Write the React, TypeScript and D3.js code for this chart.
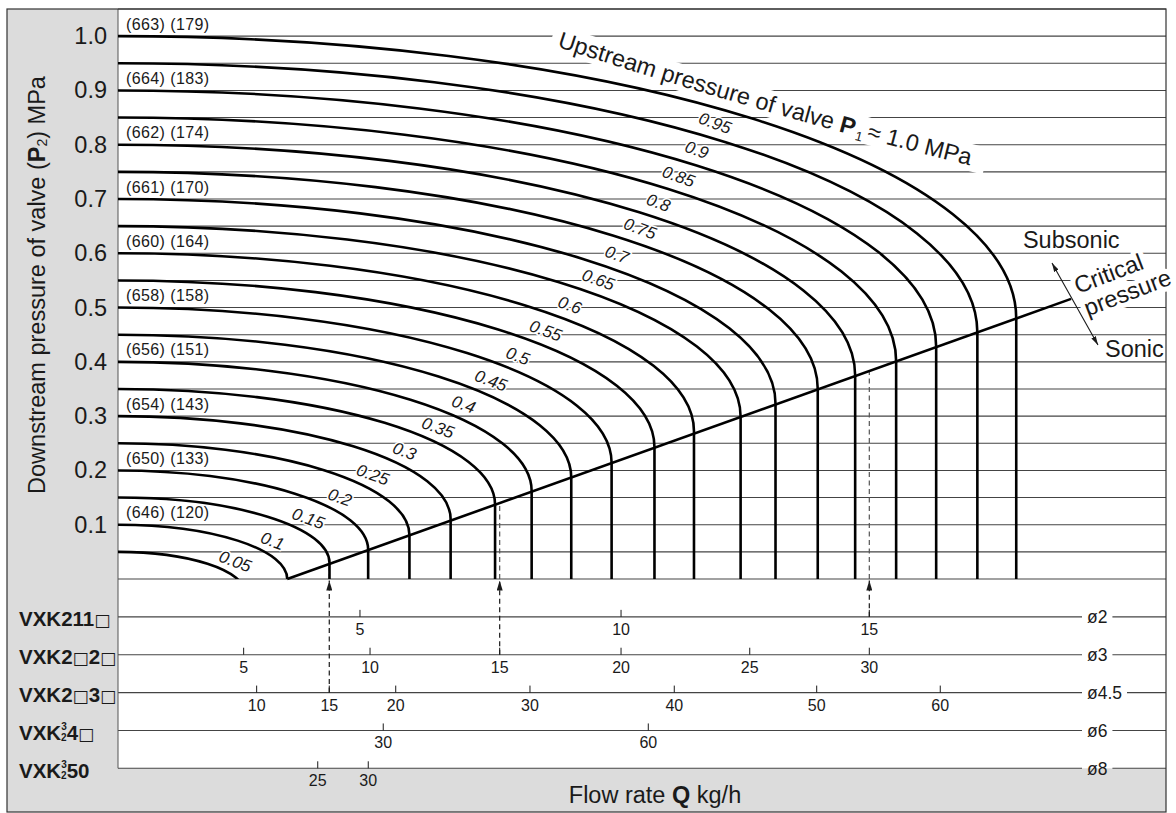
import React from "react";
import * as d3 from "d3";

// ---------- DATA ----------
// Upstream pressure P1 of each curve, MPa
const upstreamPressure = [0.05, 0.1, 0.15, 0.2, 0.25, 0.3, 0.35, 0.4, 0.45, 0.5, 0.55, 0.6, 0.65, 0.7, 0.75, 0.8, 0.85, 0.9, 0.95, 1.0];
// Flow at which each curve becomes sonic (position on the common flow axis, 0–100)
const sonicFlow = [12.08, 16.15, 20.18, 23.87, 27.81, 31.74, 35.98, 39.47, 43.25, 47.1, 51.19, 54.96, 59.41, 62.74, 66.77, 70.34, 74.25, 78.07, 82.0, 85.71];
// Downstream pressure P2 at the critical (sonic) point, MPa
const criticalDownstream = [-0.025, 0, 0.03, 0.054, 0.081, 0.11, 0.137, 0.162, 0.187, 0.214, 0.243, 0.272, 0.299, 0.323, 0.35, 0.375, 0.401, 0.428, 0.454, 0.48];
const curveLabels = ["0.05", "0.1", "0.15", "0.2", "0.25", "0.3", "0.35", "0.4", "0.45", "0.5", "0.55", "0.6", "0.65", "0.7", "0.75", "0.8", "0.85", "0.9", "0.95"];
// Critical pressure line (flow, P2)
const criticalLineFlow = [16.15, 90.94];
const criticalLinePressure = [0, 0.516];

const yTickValues = [0.1, 0.2, 0.3, 0.4, 0.5, 0.6, 0.7, 0.8, 0.9, 1.0];
const refLevels = [1.0, 0.9, 0.8, 0.7, 0.6, 0.5, 0.4, 0.3, 0.2, 0.1];
const refCodeA = [663, 664, 662, 661, 660, 658, 656, 654, 650, 646];
const refCodeB = [179, 183, 174, 170, 164, 158, 151, 143, 133, 120];

const modelBase = ["VXK211□", "VXK2□2□", "VXK2□3□", "VXK", "VXK"];
const modelStackTop = ["", "", "", "3", "3"];
const modelStackBottom = ["", "", "", "2", "2"];
const modelTail = ["", "", "", "4□", "50"];
const orificeLabels = ["ø2", "ø3", "ø4.5", "ø6", "ø8"];
// Flow-rate scale of each model row (kg/h) and where each tick sits on the common flow axis
const rowTickValues = [
  [5, 10, 15],
  [5, 10, 15, 20, 25, 30],
  [10, 15, 20, 30, 40, 50, 60],
  [30, 60],
  [25, 30],
];
const rowTickFlow = [
  [23.09, 48.0, 71.69],
  [11.99, 24.05, 36.42, 48.0, 60.28, 71.69],
  [13.23, 20.16, 26.5, 39.31, 53.08, 66.67, 78.46],
  [25.31, 50.6],
  [19.06, 23.88],
];
// Reading examples (dashed arrows): row index and flow value
const exampleRows = [2, 1, 0];
const exampleValues = [15, 15, 15];

const BOX_FONT = "'DejaVu Sans', sans-serif";

function withBoxes(s: string, keyBase: string) {
  const parts = s.split("□");
  const out: React.ReactNode[] = [];
  parts.forEach((p, i) => {
    if (p) out.push(<tspan key={`${keyBase}t${i}`}>{p}</tspan>);
    if (i < parts.length - 1)
      out.push(
        <tspan key={`${keyBase}b${i}`} fontFamily={BOX_FONT} fontWeight="normal" fontSize={17}>
          □
        </tspan>
      );
  });
  return out;
}

function approxWidth(s: string, fs: number) {
  let w = 0;
  for (const ch of s) w += ch === "." ? 0.278 : ch === "ø" ? 0.611 : 0.556;
  return w * fs;
}

export default function App() {
  const W = 1176, H = 813;
  const FONT = "'Liberation Sans', Arial, Helvetica, sans-serif";
  const ink = "#1a1a1a";
  const frame = { left: 7, top: 9, right: 1166, bottom: 812 };
  const plot = { left: 118, right: 1166, top: 9, bottom: 579, rows: 768.3 };

  const x = d3.scaleLinear().domain([0, 100]).range([plot.left, plot.right]);
  const y = d3.scaleLinear().domain([0, 1.05]).range([plot.bottom, plot.top]);
  const rowY = d3.scaleLinear().domain([0, 5]).range([plot.bottom, plot.rows]);
  const critP = d3.scaleLinear().domain(criticalLineFlow).range(criticalLinePressure);

  const gridLevels = d3.range(0, 22).map((i) => +(i * 0.05).toFixed(2));

  const curves = upstreamPressure.map((p1, i) => {
    const q = sonicFlow[i];
    const pc = criticalDownstream[i];
    const x0 = x(0), xc = x(q), yc = y(pc), yt = y(p1);
    const rx = xc - x0, ry = yc - yt;
    let d = `M${x0},${yt} A${rx},${ry} 0 0 1 ${xc},${yc}`;
    if (pc > 0) d += ` V${y(0)}`;
    return { p1, d, x0, rx, ry, yc };
  });

  const critPath = d3.line()(criticalLineFlow.map((q, i) => [x(q), y(criticalLinePressure[i])] as [number, number])) || "";

  const labelPos = curveLabels.map((lab, i) => {
    const c = curves[i];
    const s = 0.925 - 0.0128 * i;
    return { lab, cx: c.x0 + c.rx * s, cy: c.yc - c.ry * Math.sqrt(1 - s * s) - 15.5 };
  });

  const examples = exampleRows.map((r, k) => {
    const q = rowTickFlow[r][rowTickValues[r].indexOf(exampleValues[k])];
    return { xq: x(q), yFrom: rowY(r + 1), pc: critP(q) };
  });

  // Upstream-pressure annotation baseline (data coordinates → pixels)
  const upA: [number, number] = [x(41.86), y(0.9806)];
  const upC: [number, number] = [x(61.74), y(0.8547)];
  const upB: [number, number] = [x(81.77), y(0.7595)];
  const unit = (a: number[], b: number[]) => {
    const dx = b[0] - a[0], dy = b[1] - a[1];
    const l = Math.hypot(dx, dy);
    return [dx / l, dy / l];
  };
  const t0 = unit(upA, upC), t2 = unit(upC, upB);
  const nx = 2.1, ny = -7.5;
  const upPath = `M${upA[0]},${upA[1]} Q${upC[0]},${upC[1]} ${upB[0]},${upB[1]}`;
  const bandPath = `M${upA[0] - 7 * t0[0] + nx},${upA[1] - 7 * t0[1] + ny} Q${upC[0] + nx},${upC[1] + ny} ${upB[0] + 9 * t2[0] + nx},${upB[1] + 9 * t2[1] + ny}`;

  const haloStyle = { paintOrder: "stroke" as const };
  const orificeX = plot.right - 79;

  return (
    <svg width={W} height={H} viewBox={`0 0 ${W} ${H}`} style={{ position: "absolute", left: 0, top: 0, display: "block", background: "#fff" }} fontFamily={FONT}>
      <defs>
        <clipPath id="plotClip">
          <rect x={plot.left} y={plot.top} width={plot.right - plot.left} height={plot.bottom - plot.top} />
        </clipPath>
        <marker id="upArrow" viewBox="0 0 10 6" refX={10} refY={3} markerWidth={10} markerHeight={6} markerUnits="userSpaceOnUse" orient="auto">
          <path d="M0,0L10,3L0,6Z" fill={ink} />
        </marker>
        <marker id="smallArrow" viewBox="0 0 9 5" refX={9} refY={2.5} markerWidth={9} markerHeight={5} markerUnits="userSpaceOnUse" orient="auto-start-reverse">
          <path d="M0,0L9,2.5L0,5Z" fill={ink} />
        </marker>
        <path id="upstreamPath" d={upPath} />
      </defs>

      {/* background panels */}
      <rect x={frame.left} y={frame.top} width={frame.right - frame.left} height={frame.bottom - frame.top} fill="#dcdcdc" />
      <rect x={plot.left} y={plot.top} width={plot.right - plot.left} height={plot.rows - plot.top} fill="#fff" />

      {/* horizontal grid */}
      {gridLevels.map((p) => (
        <line key={p} x1={plot.left} x2={plot.right} y1={y(p)} y2={y(p)} stroke="#444" strokeWidth={1.1} />
      ))}

      {/* model rows */}
      {orificeLabels.map((o, r) => {
        const ly = rowY(r + 1);
        const gapL = orificeX - 5;
        const gapR = orificeX + approxWidth(o, 17.5) + 5;
        return (
          <g key={o}>
            <line x1={plot.left} x2={gapL} y1={ly} y2={ly} stroke="#444" strokeWidth={1.1} />
            <line x1={gapR} x2={plot.right} y1={ly} y2={ly} stroke="#444" strokeWidth={1.1} />
            {rowTickValues[r].map((v, j) => (
              <g key={v}>
                <line x1={x(rowTickFlow[r][j])} x2={x(rowTickFlow[r][j])} y1={ly - 7} y2={ly} stroke={ink} strokeWidth={1} />
                <text x={x(rowTickFlow[r][j])} y={ly + 18} fontSize={16} textAnchor="middle" fill={ink}>{v}</text>
              </g>
            ))}
            <text x={orificeX} y={ly + 6.5} fontSize={17.5} fill={ink}>{o}</text>
            <text x={19} y={ly + 9.5} fontSize={20.5} fontWeight="bold" fill={ink}>
              {withBoxes(modelBase[r], `m${r}`)}
              {modelStackTop[r] && <tspan fontSize={10} dy={-10}>{modelStackTop[r]}</tspan>}
              {modelStackBottom[r] && <tspan fontSize={10} dx={-5.6} dy={11}>{modelStackBottom[r]}</tspan>}
              {modelTail[r] && <tspan dy={-1}>{withBoxes(modelTail[r], `t${r}`)}</tspan>}
            </text>
          </g>
        );
      })}

      {/* frame strokes */}
      <line x1={plot.left} x2={plot.left} y1={plot.top} y2={plot.rows} stroke="#555" strokeWidth={1} />
      <rect x={frame.left} y={frame.top} width={frame.right - frame.left} height={frame.bottom - frame.top} fill="none" stroke="#333" strokeWidth={1.2} />

      {/* knockout behind the upstream annotation */}
      <path d={bandPath} fill="none" stroke="#fff" strokeWidth={27} />

      {/* reading example arrows */}
      {examples.map((e, k) => (
        <g key={k}>
          {e.pc > 0 && <line x1={e.xq} x2={e.xq} y1={y(0)} y2={y(e.pc)} stroke="#555" strokeWidth={1.2} strokeDasharray="5 3.5" />}
          <line x1={e.xq} x2={e.xq} y1={e.yFrom} y2={plot.bottom + 1.5} stroke={ink} strokeWidth={1.2} strokeDasharray="5 3.5" markerEnd="url(#upArrow)" />
        </g>
      ))}

      {/* curves */}
      <g clipPath="url(#plotClip)" fill="none" stroke="#000" strokeWidth={2.6}>
        {curves.map((c) => (
          <path key={c.p1} d={c.d} />
        ))}
      </g>
      <path d={critPath} fill="none" stroke="#000" strokeWidth={2.6} />

      {/* curve labels */}
      {labelPos.map((l) => (
        <text key={l.lab} x={l.cx} y={l.cy} transform={`rotate(20 ${l.cx} ${l.cy})`} fontSize={17} fontStyle="italic" textAnchor="middle" dominantBaseline="central" fill={ink} stroke="#fff" strokeWidth={3} strokeLinejoin="round" style={haloStyle}>
          {l.lab}
        </text>
      ))}

      {/* reference codes on the left */}
      {refLevels.map((p, i) => (
        <text key={p} x={126} y={y(p) - 6.5} fontSize={16} letterSpacing={0.4} fill={ink}>
          {`(${refCodeA[i]}) (${refCodeB[i]})`}
        </text>
      ))}

      {/* upstream annotation */}
      <text fontSize={23.5} fill={ink}>
        <textPath href="#upstreamPath">
          {"Upstream pressure of valve "}
          <tspan fontWeight="bold">P</tspan>
          <tspan fontSize={13} dx={2} dy={4}>1</tspan>
          <tspan dx={4} dy={-4}>{"≈ 1.0 MPa"}</tspan>
        </textPath>
      </text>

      {/* sonic / subsonic annotations */}
      <text x={x(86.35)} y={y(0.6097)} fontSize={23.5} fill={ink}>Subsonic</text>
      <text x={x(94.18)} y={y(0.409)} fontSize={23.5} fill={ink}>Sonic</text>
      <g transform={`translate(${x(91.6)},${y(0.525)}) rotate(-21)`}>
        <text fontSize={23.5} fill={ink} stroke="#fff" strokeWidth={10} strokeLinejoin="round" style={haloStyle}>
          <tspan x={0} y={0}>Critical</tspan>
          <tspan x={1} y={24.5}>pressure</tspan>
        </text>
      </g>
      <line x1={x(89.12)} y1={y(0.582)} x2={x(93.51)} y2={y(0.431)} stroke={ink} strokeWidth={1.1} markerStart="url(#smallArrow)" markerEnd="url(#smallArrow)" />

      {/* y axis */}
      {yTickValues.map((p) => (
        <text key={p} x={107} y={y(p) + 8} fontSize={23.5} textAnchor="end" fill={ink}>
          {d3.format(".1f")(p)}
        </text>
      ))}
      <text transform={`translate(44.5,285) rotate(-90)`} fontSize={23.5} textAnchor="middle" fill={ink}>
        {"Downstream pressure of valve ("}
        <tspan fontWeight="bold">P</tspan>
        <tspan fontSize={14} dy={2}>2</tspan>
        <tspan dy={-2}>{") MPa"}</tspan>
      </text>

      {/* x title */}
      <text x={655} y={803} fontSize={23.5} textAnchor="middle" fill={ink}>
        {"Flow rate "}
        <tspan fontWeight="bold">Q</tspan>
        {" kg/h"}
      </text>
    </svg>
  );
}
